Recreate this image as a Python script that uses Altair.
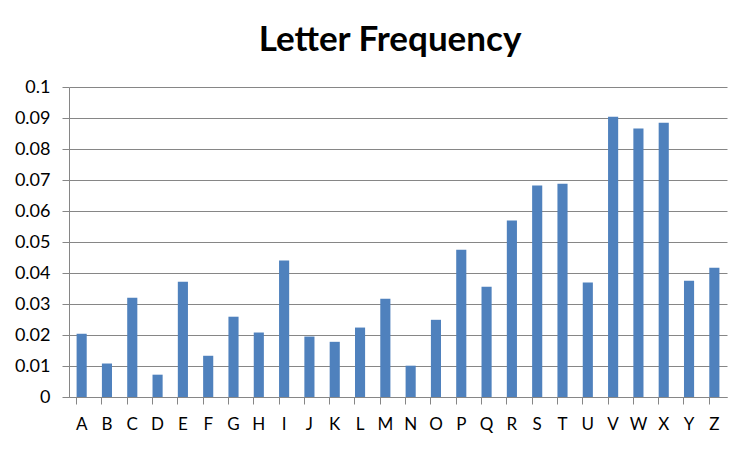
import altair as alt
import pandas as pd

letters = list("ABCDEFGHIJKLMNOPQRSTUVWXYZ")
freq = [0.0204, 0.0108, 0.0320, 0.0072, 0.0372, 0.0133, 0.0259, 0.0208, 0.0440,
        0.0195, 0.0178, 0.0224, 0.0317, 0.0101, 0.0249, 0.0475, 0.0356, 0.0569,
        0.0682, 0.0688, 0.0369, 0.0904, 0.0866, 0.0885, 0.0375, 0.0417]

df = pd.DataFrame({"letter": letters, "freq": freq})

FONT = "Lato"
chart = alt.Chart(df).mark_bar(color="#4F81BD").encode(
    x=alt.X("letter:N", sort=letters, title=None,
            scale=alt.Scale(paddingInner=0.6, paddingOuter=0.3),
            axis=alt.Axis(labelAngle=0, bandPosition=0, domainColor="#868686",
                          tickColor="#868686", tickSize=7, labelFontSize=17,
                          labelPadding=12, labelColor="black", labelFont=FONT,
                          grid=False)),
    y=alt.Y("freq:Q", title=None,
            scale=alt.Scale(domain=[0, 0.1], nice=False),
            axis=alt.Axis(values=[0, 0.01, 0.02, 0.03, 0.04, 0.05, 0.06, 0.07, 0.08, 0.09, 0.1],
                          format="~g", domainColor="#868686", tickColor="#868686",
                          tickSize=7, gridColor="#868686", gridOpacity=1,
                          labelFontSize=18, labelPadding=12, labelColor="black",
                          labelFont=FONT)),
).properties(
    width=658, height=310,
    title=alt.TitleParams("Letter Frequency", fontSize=35, font=FONT,
                          fontWeight="bold", color="black", offset=20, dx=-8),
    autosize=alt.AutoSizeParams(type="none"),
    padding={"left": 69, "top": 87, "right": 23, "bottom": 53},
).configure_view(stroke=None)

chart.save("out.html", embed_options={"renderer": "svg", "actions": False})
